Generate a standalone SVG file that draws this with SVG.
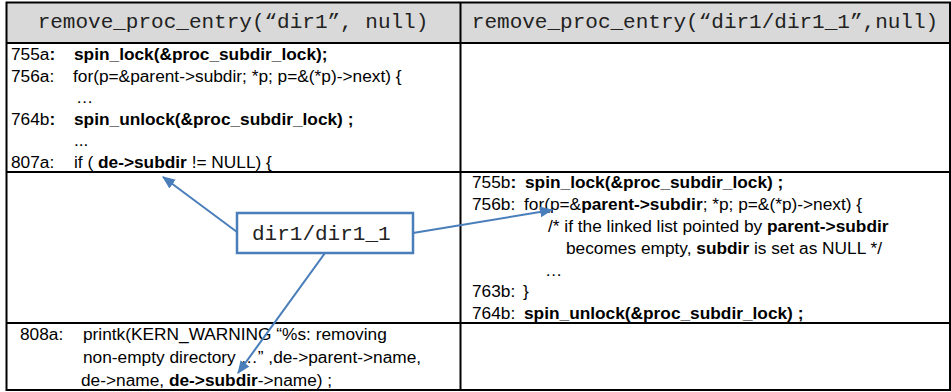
<svg xmlns="http://www.w3.org/2000/svg" width="951" height="392" viewBox="0 0 951 392">
  <style>
    .grid { fill: none; stroke: #000; stroke-width: 2; }
    .hdr { font-family: "Liberation Mono", "Courier New", monospace; font-size: 21px; fill: #222; }
    .code { font-family: "Liberation Sans", Arial, Helvetica, sans-serif; font-size: 17.3px; fill: #000; }
    .b { font-weight: bold; }
    .conn { fill: none; stroke: #4a7ebb; stroke-width: 2; }
    .box { fill: #fff; stroke: #4a7ebb; stroke-width: 2.5; }
    .lbl { font-family: "Liberation Mono", "Courier New", monospace; font-size: 21px; fill: #222; }
  </style>
  <defs>
    <marker id="ah" viewBox="0 0 12 10" refX="11" refY="5" markerWidth="13" markerHeight="11" markerUnits="userSpaceOnUse" orient="auto">
      <path d="M0,0 L12,5 L0,10 Z" fill="#4a7ebb"/>
    </marker>
  </defs>

  <g id="table">
    <rect x="6.5" y="2.5" width="943.5" height="40.5" fill="#d9d9d9"/>
    <rect class="grid" x="6.5" y="2.5" width="943.5" height="387.5"/>
    <line class="grid" x1="6.5" y1="43" x2="950" y2="43"/>
    <line class="grid" x1="6.5" y1="172" x2="950" y2="172"/>
    <line class="grid" x1="6.5" y1="323" x2="950" y2="323"/>
    <line class="grid" x1="460.5" y1="2.5" x2="460.5" y2="390"/>
  </g>

  <g id="header-left">
    <text class="hdr" x="233" y="28" text-anchor="middle">remove_proc_entry(“dir1”, null)</text>
  </g>
  <g id="header-right">
    <text class="hdr" x="705" y="28" text-anchor="middle">remove_proc_entry(“dir1/dir1_1”,null)</text>
  </g>

  <g id="cell-a1" class="code">
    <text x="11" y="60">755a<tspan class="b">: </tspan><tspan class="b" x="74">spin_lock(&amp;proc_subdir_lock);</tspan></text>
    <text x="11" y="81.6">756a: <tspan x="73">for(p=&amp;parent-&gt;subdir; *p; p=&amp;(*p)-&gt;next) {</tspan></text>
    <text x="76" y="103">…</text>
    <text x="11" y="125">764b<tspan class="b">: </tspan><tspan class="b" x="74">spin_unlock(&amp;proc_subdir_lock) ;</tspan></text>
    <text x="74" y="146">...</text>
    <text x="11" y="168">807a: <tspan x="74">if ( </tspan><tspan class="b">de-&gt;subdir</tspan> != NULL) {</text>
  </g>

  <g id="cell-b2" class="code">
    <text x="472" y="188">755b<tspan class="b">: </tspan><tspan class="b" x="525">spin_lock(&amp;proc_subdir_lock) ;</tspan></text>
    <text x="472" y="210">756b: <tspan x="524">for(p=&amp;</tspan><tspan class="b">parent-&gt;subdir</tspan>; *p; p=&amp;(*p)-&gt;next) {</text>
    <text x="548" y="232">/* if the linked list pointed by <tspan class="b">parent-&gt;subdir</tspan></text>
    <text x="566" y="254">becomes empty, <tspan class="b">subdir</tspan> is set as NULL */</text>
    <text x="545" y="276">…</text>
    <text x="472" y="297">763b: <tspan x="523">}</tspan></text>
    <text x="472" y="319">764b: <tspan class="b" x="524">spin_unlock(&amp;proc_subdir_lock) ;</tspan></text>
  </g>

  <g id="cell-a4" class="code">
    <text x="20" y="340">808a:<tspan x="83">printk(KERN_WARNING “%s: removing</tspan></text>
    <text x="83" y="363">non-empty directory …” ,de-&gt;parent-&gt;name,</text>
    <text x="81" y="386">de-&gt;name, <tspan class="b">de-&gt;subdir</tspan>-&gt;name) ;</text>
  </g>

  <g id="connectors">
    <line class="conn" x1="237" y1="232" x2="163" y2="177" marker-end="url(#ah)"/>
    <line class="conn" x1="413" y1="233" x2="552" y2="210" marker-end="url(#ah)"/>
    <line class="conn" x1="325" y1="253" x2="238" y2="373" marker-end="url(#ah)"/>
  </g>

  <g id="node-dir1_1">
    <rect class="box" x="237" y="213" width="176" height="40"/>
    <text class="lbl" x="252" y="240">dir1/dir1_1</text>
  </g>
</svg>
